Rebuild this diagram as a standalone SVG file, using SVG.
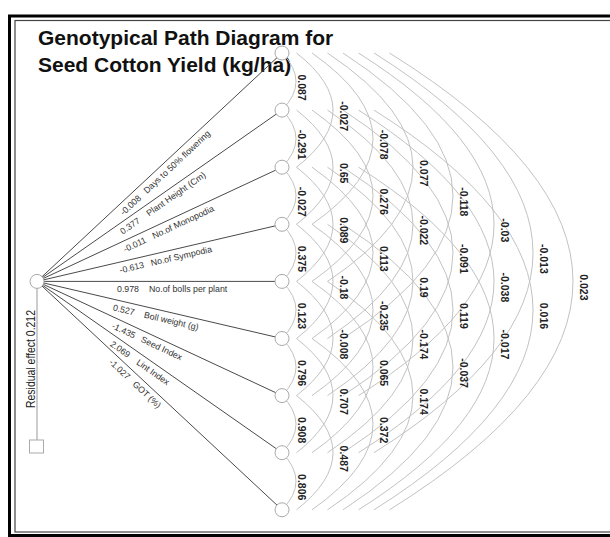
<svg xmlns="http://www.w3.org/2000/svg" width="610" height="537" viewBox="0 0 610 537">
<style>
.arc{fill:none;stroke:#c2c2c2;stroke-width:1}
.fan{stroke:#4a4a4a;stroke-width:1;fill:none}
.nd{fill:#fff;stroke:#aaa;stroke-width:1}
.title{font-family:"Liberation Sans",Arial,sans-serif;font-weight:bold;font-size:21px;fill:#111}
.fl{font-family:"Liberation Sans",Arial,sans-serif;font-size:8.8px;fill:#333}
.al{font-family:"Liberation Sans",Arial,sans-serif;font-size:10.5px;font-weight:bold;fill:#222;text-anchor:middle}
.res{font-family:"Liberation Sans",Arial,sans-serif;font-size:13px;fill:#222;text-anchor:middle}
</style>
<rect x="0" y="0" width="610" height="537" fill="#fff"/>
<rect x="9.5" y="16" width="620" height="519.5" fill="none" stroke="#000" stroke-width="3"/>
<rect x="15" y="20.5" width="620" height="511.5" fill="none" stroke="#444" stroke-width="1.2"/>
<text class="title" x="38" y="45">Genotypical Path Diagram for</text>
<text class="title" x="38" y="72">Seed Cotton Yield (kg/ha)</text>
<g id="connectors">
<g id="fan-lines">
<line class="fan" x1="37" y1="281.4" x2="282" y2="53"/>
<line class="fan" x1="37" y1="281.4" x2="282" y2="110.1"/>
<line class="fan" x1="37" y1="281.4" x2="282" y2="167.2"/>
<line class="fan" x1="37" y1="281.4" x2="282" y2="224.3"/>
<line class="fan" x1="37" y1="281.4" x2="282" y2="281.4"/>
<line class="fan" x1="37" y1="281.4" x2="282" y2="338.5"/>
<line class="fan" x1="37" y1="281.4" x2="282" y2="395.6"/>
<line class="fan" x1="37" y1="281.4" x2="282" y2="452.7"/>
<line class="fan" x1="37" y1="281.4" x2="282" y2="509.8"/>
<line x1="37" y1="281.4" x2="37" y2="440" stroke="#999" stroke-width="1"/>
</g>
<g id="arcs">
<path class="arc" d="M282,53 Q310,81.55 282,110.1"/>
<path class="arc" d="M282,110.1 Q310,138.65 282,167.2"/>
<path class="arc" d="M282,167.2 Q310,195.75 282,224.3"/>
<path class="arc" d="M282,224.3 Q310,252.85 282,281.4"/>
<path class="arc" d="M282,281.4 Q310,309.95 282,338.5"/>
<path class="arc" d="M282,338.5 Q310,367.05 282,395.6"/>
<path class="arc" d="M282,395.6 Q310,424.15 282,452.7"/>
<path class="arc" d="M282,452.7 Q310,481.25 282,509.8"/>
<path class="arc" d="M296.5,53 Q369.5,110.1 296.5,167.2"/>
<path class="arc" d="M296.5,110.1 Q369.5,167.2 296.5,224.3"/>
<path class="arc" d="M296.5,167.2 Q369.5,224.3 296.5,281.4"/>
<path class="arc" d="M296.5,224.3 Q369.5,281.4 296.5,338.5"/>
<path class="arc" d="M296.5,281.4 Q369.5,338.5 296.5,395.6"/>
<path class="arc" d="M296.5,338.5 Q369.5,395.6 296.5,452.7"/>
<path class="arc" d="M296.5,395.6 Q369.5,452.7 296.5,509.8"/>
<path class="arc" d="M312,53 Q434,138.65 312,224.3"/>
<path class="arc" d="M312,110.1 Q434,195.75 312,281.4"/>
<path class="arc" d="M312,167.2 Q434,252.85 312,338.5"/>
<path class="arc" d="M312,224.3 Q434,309.95 312,395.6"/>
<path class="arc" d="M312,281.4 Q434,367.05 312,452.7"/>
<path class="arc" d="M312,338.5 Q434,424.15 312,509.8"/>
<path class="arc" d="M327.5,53 Q498.5,167.2 327.5,281.4"/>
<path class="arc" d="M327.5,110.1 Q498.5,224.3 327.5,338.5"/>
<path class="arc" d="M327.5,167.2 Q498.5,281.4 327.5,395.6"/>
<path class="arc" d="M327.5,224.3 Q498.5,338.5 327.5,452.7"/>
<path class="arc" d="M327.5,281.4 Q498.5,395.6 327.5,509.8"/>
<path class="arc" d="M343,53 Q563,195.75 343,338.5"/>
<path class="arc" d="M343,110.1 Q563,252.85 343,395.6"/>
<path class="arc" d="M343,167.2 Q563,309.95 343,452.7"/>
<path class="arc" d="M343,224.3 Q563,367.05 343,509.8"/>
<path class="arc" d="M358.5,53 Q629.5,224.3 358.5,395.6"/>
<path class="arc" d="M358.5,110.1 Q629.5,281.4 358.5,452.7"/>
<path class="arc" d="M358.5,167.2 Q629.5,338.5 358.5,509.8"/>
<path class="arc" d="M374,53 Q692,252.85 374,452.7"/>
<path class="arc" d="M374,110.1 Q692,309.95 374,509.8"/>
<path class="arc" d="M389.5,53 Q756.5,281.4 389.5,509.8"/>
</g>
</g>
<g id="fan-labels">
<g transform="translate(123.5,215.8) rotate(-43)"><text class="fl" x="0" y="0">-0.008</text><text class="fl" x="32" y="0">Days to 50% flowering</text></g>
<g transform="translate(122.8,234.8) rotate(-34.96)"><text class="fl" x="0" y="0">0.377</text><text class="fl" x="32" y="0">Plant Height (Cm)</text></g>
<g transform="translate(125,252.5) rotate(-24.99)"><text class="fl" x="0" y="0">-0.011</text><text class="fl" x="32" y="0">No.of Monopodia</text></g>
<g transform="translate(120.3,273.3) rotate(-13.12)"><text class="fl" x="0" y="0">-0.613</text><text class="fl" x="32" y="0">No.of Sympodia</text></g>
<g transform="translate(117,292.4)"><text class="fl" x="0" y="0">0.978</text><text class="fl" x="32" y="0">No.of bolls per plant</text></g>
<g transform="translate(112.4,310.3) rotate(13.12)"><text class="fl" x="0" y="0">0.527</text><text class="fl" x="32" y="0">Boll weight (g)</text></g>
<g transform="translate(111.2,328.1) rotate(24.99)"><text class="fl" x="0" y="0">-1.435</text><text class="fl" x="32" y="0">Seed Index</text></g>
<g transform="translate(109.4,345.4) rotate(34.96)"><text class="fl" x="0" y="0">2.069</text><text class="fl" x="32" y="0">Lint Index</text></g>
<g transform="translate(108.5,363.1) rotate(43)"><text class="fl" x="0" y="0">-1.027</text><text class="fl" x="32" y="0">GOT (%)</text></g>
</g>
<g id="arc-labels">
<text class="al" transform="translate(298.2,87.55) rotate(90)">0.087</text>
<text class="al" transform="translate(298.2,144.65) rotate(90)">-0.291</text>
<text class="al" transform="translate(298.2,201.75) rotate(90)">-0.027</text>
<text class="al" transform="translate(298.2,258.85) rotate(90)">0.375</text>
<text class="al" transform="translate(298.2,315.95) rotate(90)">0.123</text>
<text class="al" transform="translate(298.2,373.05) rotate(90)">0.796</text>
<text class="al" transform="translate(298.2,430.15) rotate(90)">0.908</text>
<text class="al" transform="translate(298.2,487.25) rotate(90)">0.806</text>
<text class="al" transform="translate(340.2,116.1) rotate(90)">-0.027</text>
<text class="al" transform="translate(340.2,173.2) rotate(90)">0.65</text>
<text class="al" transform="translate(340.2,230.3) rotate(90)">0.089</text>
<text class="al" transform="translate(340.2,287.4) rotate(90)">-0.18</text>
<text class="al" transform="translate(340.2,344.5) rotate(90)">-0.008</text>
<text class="al" transform="translate(340.2,401.6) rotate(90)">0.707</text>
<text class="al" transform="translate(340.2,458.7) rotate(90)">0.487</text>
<text class="al" transform="translate(380.2,144.65) rotate(90)">-0.078</text>
<text class="al" transform="translate(380.2,201.75) rotate(90)">0.276</text>
<text class="al" transform="translate(380.2,258.85) rotate(90)">0.113</text>
<text class="al" transform="translate(380.2,315.95) rotate(90)">-0.235</text>
<text class="al" transform="translate(380.2,373.05) rotate(90)">0.065</text>
<text class="al" transform="translate(380.2,430.15) rotate(90)">0.372</text>
<text class="al" transform="translate(420.2,173.2) rotate(90)">0.077</text>
<text class="al" transform="translate(420.2,230.3) rotate(90)">-0.022</text>
<text class="al" transform="translate(420.2,287.4) rotate(90)">0.19</text>
<text class="al" transform="translate(420.2,344.5) rotate(90)">-0.174</text>
<text class="al" transform="translate(420.2,401.6) rotate(90)">0.174</text>
<text class="al" transform="translate(460.2,201.75) rotate(90)">-0.118</text>
<text class="al" transform="translate(460.2,258.85) rotate(90)">-0.091</text>
<text class="al" transform="translate(460.2,315.95) rotate(90)">0.119</text>
<text class="al" transform="translate(460.2,373.05) rotate(90)">-0.037</text>
<text class="al" transform="translate(501.2,230.3) rotate(90)">-0.03</text>
<text class="al" transform="translate(501.2,287.4) rotate(90)">-0.038</text>
<text class="al" transform="translate(501.2,344.5) rotate(90)">-0.017</text>
<text class="al" transform="translate(540.2,258.85) rotate(90)">-0.013</text>
<text class="al" transform="translate(540.2,315.95) rotate(90)">0.016</text>
<text class="al" transform="translate(580.2,287.4) rotate(90)">0.023</text>
</g>
<g id="node-source"><circle class="nd" cx="37" cy="281.4" r="7"/></g>
<g id="node-residual"><rect class="nd" x="29.5" y="440" width="14" height="13"/><text class="res" transform="translate(34.5,359) rotate(-90)" textLength="98" lengthAdjust="spacingAndGlyphs">Residual effect 0.212</text></g>
<g id="node-1"><circle class="nd" cx="282" cy="53" r="7"/></g>
<g id="node-2"><circle class="nd" cx="282" cy="110.1" r="7"/></g>
<g id="node-3"><circle class="nd" cx="282" cy="167.2" r="7"/></g>
<g id="node-4"><circle class="nd" cx="282" cy="224.3" r="7"/></g>
<g id="node-5"><circle class="nd" cx="282" cy="281.4" r="7"/></g>
<g id="node-6"><circle class="nd" cx="282" cy="338.5" r="7"/></g>
<g id="node-7"><circle class="nd" cx="282" cy="395.6" r="7"/></g>
<g id="node-8"><circle class="nd" cx="282" cy="452.7" r="7"/></g>
<g id="node-9"><circle class="nd" cx="282" cy="509.8" r="7"/></g>
</svg>
